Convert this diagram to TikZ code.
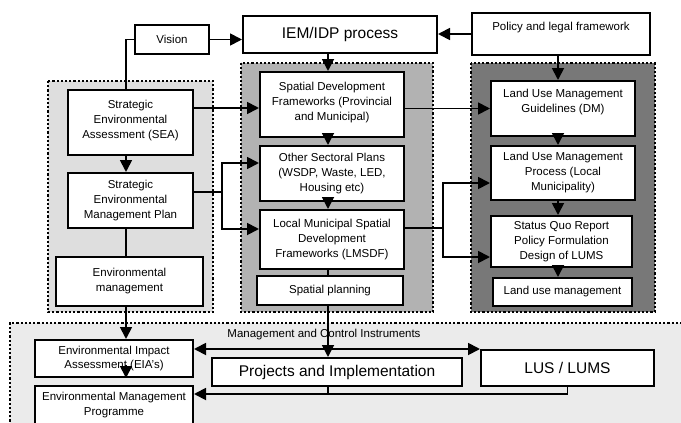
\documentclass[tikz,border=0pt]{standalone}
\usepackage{fontspec}
\setmainfont{Liberation Sans}
\usetikzlibrary{arrows.meta, positioning}

\definecolor{envgray}{gray}{0.87}
\definecolor{spatgray}{gray}{0.70}
\definecolor{lumgray}{gray}{0.47}
\definecolor{instrgray}{gray}{0.92}

\begin{document}
\begin{tikzpicture}[x=1pt, y=-1pt,
    box/.style={draw, line width=2pt, fill=white, align=center, inner sep=0pt,
        font=\fontsize{11.5}{15}\selectfont},
    bigbox/.style={box, font=\fontsize{15.5}{18}\selectfont},
    region/.style={line width=2.2pt, dash pattern=on 2.2pt off 2pt},
    link/.style={line width=1.8pt},
    arrow/.style={link, -{Triangle[length=12pt,width=12pt]}},
    both/.style={link, {Triangle[length=12pt,width=12pt]}-{Triangle[length=12pt,width=12pt]}}]
    \path[use as bounding box, clip] (0,0) rectangle (681,423);

    % shaded groups
    \draw[region, fill=envgray] (48,81) rectangle (213,312);
    \draw[region, fill=spatgray] (241,63) rectangle (433,312);
    \draw[region, fill=lumgray] (471,63) rectangle (655,312);
    \fill[instrgray] (10,323) rectangle (690,430);
    \draw[region] (10,430) -- (10,323) -- (690,323);

    % top row
    \node[box, minimum width=74pt, minimum height=29pt] (vision) at (172,39.5) {Vision};
    \node[bigbox, minimum width=194pt, minimum height=37pt] (iem) at (340,34.5) {IEM/IDP process};
    \node[box, minimum width=178pt, minimum height=42pt] (policy) at (561,34) {Policy and legal framework\\\mbox{}};

    % environmental column
    \node[box, minimum width=125pt, minimum height=65pt] (sea) at (130.5,122.5) {Strategic\\Environmental\\Assessment (SEA)\\[-8pt]\mbox{}};
    \node[box, minimum width=125pt, minimum height=55pt] (semp) at (130.5,200.5) {Strategic\\Environmental\\Management Plan};
    \node[box, minimum width=147pt, minimum height=49pt] (envman) at (129.5,281.5) {Environmental\\management};

    % spatial column
    \node[box, minimum width=144pt, minimum height=65pt] (sdf) at (332,104.5) {Spatial Development\\Frameworks (Provincial\\and Municipal)\\[-8pt]\mbox{}};
    \node[box, minimum width=144pt, minimum height=55pt] (sector) at (332,173.5) {Other Sectoral Plans\\(WSDP, Waste, LED,\\Housing etc)};
    \node[box, minimum width=144pt, minimum height=59pt] (lmsdf) at (332,239.5) {Local Municipal Spatial\\Development\\Frameworks (LMSDF)};
    \node[box, minimum width=146pt, minimum height=29pt] (spatial) at (330,290.5) {Spatial planning};

    % land use column
    \node[box, minimum width=144pt, minimum height=55pt] (lumguide) at (563,108.5) {Land Use Management\\Guidelines (DM)\\\mbox{}};
    \node[box, minimum width=144pt, minimum height=54pt] (lumproc) at (563,173) {Land Use Management\\Process (Local\\Municipality)};
    \node[box, minimum width=141pt, minimum height=51pt] (status) at (561.5,241.5) {Status Quo Report\\Policy Formulation\\Design of LUMS};
    \node[box, minimum width=139pt, minimum height=28pt] (landuse) at (562.5,292) {Land use management};

    % instruments
    \node[font=\fontsize{11.5}{15}\selectfont] (instr) at (324,335) {Management and Control Instruments};
    \node[box, minimum width=158pt, minimum height=37pt, font=\fontsize{11.5}{14}\selectfont] (eia) at (114,358.5) {Environmental Impact\\Assessment (EIA's)};
    \node[box, minimum width=158pt, minimum height=39pt] (emp) at (114,405.5) {Environmental Management\\Programme};
    \node[bigbox, minimum width=250pt, minimum height=28pt] (projects) at (337,372) {Projects and Implementation};
    \node[bigbox, minimum width=173pt, minimum height=36pt] (lus) at (567.5,368) {LUS / LUMS};

    \coordinate (laxis) at (126,0);
    \coordinate (maxis) at (328,0);
    \coordinate (raxis) at (558,0);
    \coordinate (sempfork) at (222,192);
    \coordinate (lmsdffork) at (443,228);
    \coordinate (upperbus) at (0,349);
    \coordinate (lowerbus) at (0,394);

    \draw[link] (sea.north -| laxis) |- (vision.west);
    \draw[arrow] (vision.east) -- (vision.east -| iem.west);
    \draw[arrow] (policy.west) -- (policy.west -| iem.east);

    \draw[arrow] (sea.south -| laxis) -- (semp.north -| laxis);
    \draw[link] (semp.south -| laxis) -- (envman.north -| laxis);
    \draw[arrow] (envman.south -| laxis) -- (eia.north -| laxis);
    \draw[arrow] ([yshift=13pt]eia.south -| laxis) -- (eia.south -| laxis);

    \draw[arrow] (iem.south -| maxis) -- (sdf.north -| maxis);
    \draw[arrow] (sdf.south -| maxis) -- (sector.north -| maxis);
    \draw[arrow] (sector.south -| maxis) -- (lmsdf.north -| maxis);
    \draw[link] (lmsdf.south -| maxis) -- (spatial.north -| maxis);
    \draw[arrow] (spatial.south -| maxis) -- (projects.north -| maxis);

    \draw[arrow] (policy.south -| raxis) -- (lumguide.north -| raxis);
    \draw[arrow] (lumguide.south -| raxis) -- (lumproc.north -| raxis);
    \draw[arrow] (lumproc.south -| raxis) -- (status.north -| raxis);
    \draw[arrow] (status.south -| raxis) -- (landuse.north -| raxis);

    \draw[arrow] ([yshift=-3.5pt]sdf.west -| sea.east) -- ([yshift=-3.5pt]sdf.west);
    \draw[arrow] (sdf.east |- lumguide.west) -- (lumguide.west);

    \draw[link] (semp.east |- sempfork) -- (sempfork);
    \draw[arrow] (sempfork) |- ([yshift=10.5pt]sector.west);
    \draw[arrow] (sempfork) |- ([yshift=10.5pt]lmsdf.west);
    \draw[link] (lmsdf.east |- lmsdffork) -- (lmsdffork);
    \draw[arrow] (lmsdffork) |- ([yshift=-10pt]lumproc.west);
    \draw[arrow] (lmsdffork) |- ([yshift=-15.5pt]status.west);

    \draw[both] (eia.east |- upperbus) -- (lus.west |- upperbus);
    \draw[arrow] (lus.south) |- (emp.east |- lowerbus);
    \draw[link] (projects.south -| maxis) -- (maxis |- lowerbus);
\end{tikzpicture}
\end{document}
